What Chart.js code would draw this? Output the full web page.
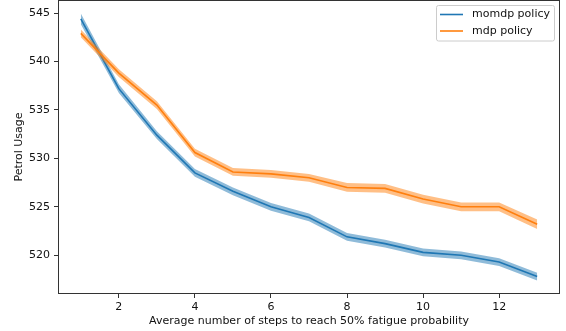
<!DOCTYPE html>
<html>
<head>
<meta charset="utf-8">
<script src="https://cdn.jsdelivr.net/npm/chart.js@4.4.0/dist/chart.umd.min.js"></script>
<style>
  html, body { margin: 0; padding: 0; background: #fff; }
  #wrap { width: 566px; height: 331px; }
</style>
</head>
<body>
<div id="wrap"><canvas id="petrolChart" width="566" height="331"></canvas></div>
<script>
// Values
const steps = [1, 2, 3, 4, 5, 6, 7, 8, 9, 10, 11, 12, 13];
const momdpMean = [544.4, 537.2, 532.4, 528.5, 526.6, 525.0, 523.9, 521.9, 521.2, 520.3, 520.0, 519.3, 517.8];
const momdpSpread = [0.55, 0.45, 0.4, 0.4, 0.4, 0.4, 0.4, 0.4, 0.4, 0.4, 0.4, 0.4, 0.4];
const mdpMean = [542.9, 538.8, 535.5, 530.6, 528.6, 528.4, 528.0, 527.0, 526.9, 525.8, 525.0, 525.0, 523.2];
const mdpSpread = [0.4, 0.4, 0.4, 0.4, 0.4, 0.4, 0.4, 0.45, 0.45, 0.45, 0.45, 0.45, 0.5];
const xTicks = [2, 4, 6, 8, 10, 12];
const yTicks = [520, 525, 530, 535, 540, 545];

const BLUE = '#1f77b4';
const ORANGE = '#ff7f0e';
const FONT = 'DejaVu Sans';
const TEXT = '#111';
const SPINE = '#333';

function points(values, offsets, sign) {
    return steps.map((x, i) => ({ x: x, y: values[i] + sign * (offsets ? offsets[i] : 0) }));
}

// Frame on all four sides plus a matplotlib-style legend
const framePlugin = {
    id: 'frame',
    afterDraw(chart) {
        const ctx = chart.ctx;
        const a = chart.chartArea;
        const l = Math.round(a.left), r = Math.round(a.right);
        const t = Math.round(a.top), b = Math.round(a.bottom);
        ctx.save();
        ctx.fillStyle = SPINE;
        ctx.fillRect(l, t, r - l, 1);       // top
        ctx.fillRect(l, b - 1, r - l, 1);   // bottom
        ctx.fillRect(l, t, 1, b - t);       // left
        ctx.fillRect(r - 1, t, 1, b - t);   // right

        // legend box
        const lx = 436.5, ly = 5.5, lw = 118, lh = 35.5;
        ctx.fillStyle = 'rgba(255,255,255,0.8)';
        ctx.strokeStyle = '#ccc';
        ctx.lineWidth = 1;
        ctx.beginPath();
        ctx.roundRect(lx, ly, lw, lh, 2);
        ctx.fill();
        ctx.stroke();

        const entries = [['momdp policy', BLUE], ['mdp policy', ORANGE]];
        ctx.font = '11px "' + FONT + '"';
        ctx.textBaseline = 'middle';
        entries.forEach((e, i) => {
            const y = 14.5 + i * 16.5;
            ctx.strokeStyle = e[1];
            ctx.lineWidth = 1.6;
            ctx.beginPath();
            ctx.moveTo(440, y);
            ctx.lineTo(463, y);
            ctx.stroke();
            ctx.fillStyle = TEXT;
            ctx.fillText(e[0], 472, y);
        });
        ctx.restore();
    }
};

const bandStyle = { pointRadius: 0, borderWidth: 0, tension: 0 };
const lineStyle = { pointRadius: 0, borderWidth: 1.6, tension: 0, fill: false };

new Chart(document.getElementById('petrolChart'), {
    type: 'line',
    data: {
        datasets: [
            Object.assign({ label: 'momdp lower', data: points(momdpMean, momdpSpread, -1), fill: false, order: 6 }, bandStyle),
            Object.assign({ label: 'momdp upper', data: points(momdpMean, momdpSpread, 1), fill: '-1',
                backgroundColor: 'rgba(31,119,180,0.5)', order: 5 }, bandStyle),
            Object.assign({ label: 'momdp policy', data: points(momdpMean, null, 0), borderColor: BLUE, order: 4 }, lineStyle),
            Object.assign({ label: 'mdp lower', data: points(mdpMean, mdpSpread, -1), fill: false, order: 3 }, bandStyle),
            Object.assign({ label: 'mdp upper', data: points(mdpMean, mdpSpread, 1), fill: '-1',
                backgroundColor: 'rgba(255,127,14,0.5)', order: 2 }, bandStyle),
            Object.assign({ label: 'mdp policy', data: points(mdpMean, null, 0), borderColor: ORANGE, order: 1 }, lineStyle)
        ]
    },
    options: {
        responsive: false,
        animation: false,
        layout: { padding: { top: 0, right: 6, left: 0, bottom: 0 } },
        plugins: {
            legend: { display: false },
            tooltip: { enabled: false }
        },
        scales: {
            x: {
                type: 'linear',
                min: 0.4,
                max: 13.6,
                afterBuildTicks: (scale) => { scale.ticks = xTicks.map(v => ({ value: v })); },
                afterFit: (scale) => {
                    scale.height = 37;
                    scale.paddingLeft = 0;
                    scale.paddingRight = 0;
                },
                grid: { drawOnChartArea: false, drawTicks: true, tickLength: 4, color: SPINE },
                border: { display: false },
                ticks: { color: TEXT, font: { family: FONT, size: 11 }, padding: 3, maxRotation: 0 },
                title: { display: true, text: 'Average number of steps to reach 50% fatigue probability',
                    color: TEXT, font: { family: FONT, size: 11 }, padding: { top: 0, bottom: 3 } }
            },
            y: {
                min: 516.0,
                max: 546.35,
                afterBuildTicks: (scale) => { scale.ticks = yTicks.map(v => ({ value: v })); },
                afterFit: (scale) => {
                    scale.width = 58;
                    scale.paddingTop = 0;
                    scale.paddingBottom = 0;
                },
                grid: { drawOnChartArea: false, drawTicks: true, tickLength: 4, color: SPINE },
                border: { display: false },
                ticks: { color: TEXT, font: { family: FONT, size: 11 }, padding: 4 },
                title: { display: true, text: 'Petrol Usage',
                    color: TEXT, font: { family: FONT, size: 11 }, padding: { top: 13, bottom: 0 } }
            }
        }
    },
    plugins: [framePlugin]
});
</script>
</body>
</html>
